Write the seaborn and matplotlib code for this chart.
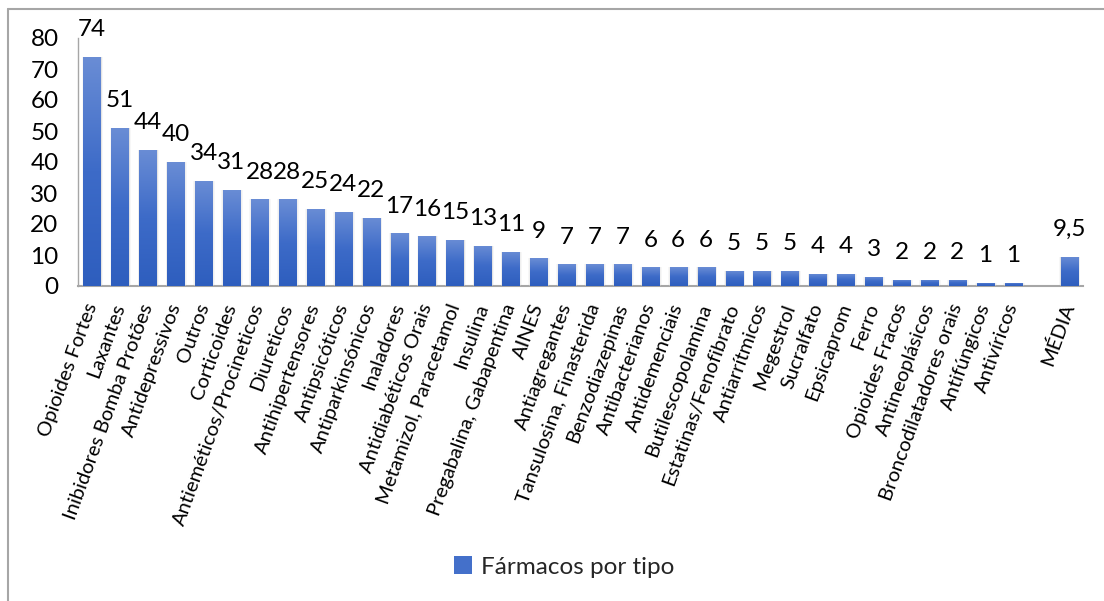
import numpy as np
import pandas as pd
import matplotlib
matplotlib.use("Agg")
import matplotlib.pyplot as plt
from matplotlib.colors import LinearSegmentedColormap
from matplotlib.lines import Line2D
from matplotlib.patches import Rectangle
import seaborn as sns

# Drug classes and number of prescriptions per class
categories = [
    "Opioides Fortes", "Laxantes", "Inibidores Bomba Protões", "Antidepressivos",
    "Outros", "Corticoides", "Antieméticos/Procineticos", "Diureticos",
    "Antihipertensores", "Antipsicóticos", "Antiparkinsónicos", "Inaladores",
    "Antidiabéticos Orais", "Metamizol, Paracetamol", "Insulina",
    "Pregabalina, Gabapentina", "AINES", "Antiagregantes",
    "Tansulosina, Finasterida", "Benzodiazepinas", "Antibacterianos",
    "Antidemenciais", "Butilescopolamina", "Estatinas/Fenofibrato",
    "Antiarrítmicos", "Megestrol", "Sucralfato", "Epsicaprom", "Ferro",
    "Opioides Fracos", "Antineoplásicos", "Broncodilatadores orais",
    "Antifúngicos", "Antivíricos",
]
counts = [74, 51, 44, 40, 34, 31, 28, 28, 25, 24, 22, 17, 16, 15, 13, 11, 9,
          7, 7, 7, 6, 6, 6, 5, 5, 5, 4, 4, 3, 2, 2, 2, 1, 1]
mean_label = "MÉDIA"
mean_value = 9.5
series_name = "Fármacos por tipo"
y_ticks = [0, 10, 20, 30, 40, 50, 60, 70, 80]

df = pd.DataFrame({"tipo": categories + [mean_label],
                   "n": counts + [mean_value]})
spacer = " "
order = categories + [spacer, mean_label]

sns.set_style("white")
plt.rcParams["font.family"] = ["Lato", "DejaVu Sans"]

fig = plt.figure(figsize=(11.04, 6.01), dpi=100)
ax = fig.add_axes([78 / 1104, 1 - 286 / 601, (1083 - 78) / 1104, (286 - 38) / 601])

bar_mid = "#4470CA"
sns.barplot(data=df, x="tipo", y="n", order=order, color=bar_mid,
            width=0.61, saturation=1, ax=ax, legend=False, zorder=3)

# gradient fill and soft grey halo for every bar
grad = LinearSegmentedColormap.from_list("bar", ["#2E5EBE", "#3D6BC8", "#6A8DD5"])
ramp = np.linspace(0, 1, 256).reshape(-1, 1)
for p in list(ax.patches):
    x0, w, h = p.get_x(), p.get_width(), p.get_height()
    if not np.isfinite(h) or h <= 0:
        continue
    for k, a in ((0.05, 0.06), (0.10, 0.045), (0.16, 0.03)):
        ax.add_patch(Rectangle((x0 - k * 0.5 + 0.02, 0), w + k, h,
                               facecolor="black", alpha=a, lw=0, zorder=2))
    im = ax.imshow(ramp, extent=[x0, x0 + w, 0, h], origin="lower",
                   aspect="auto", cmap=grad, zorder=4)
    im.set_clip_path(p)

ax.set_xlim(-0.5, len(order) - 0.5)
ax.set_ylim(0, 80)
ax.set_yticks(y_ticks)
ax.set_xlabel("")
ax.set_ylabel("")

# value labels above bars
def fmt(v):
    return f"{v:g}".replace(".", ",")

for cat, v in zip(df["tipo"], df["n"]):
    ax.annotate(fmt(v), xy=(order.index(cat), v), xytext=(0, 19.5),
                textcoords="offset points", ha="center", va="center",
                fontsize=17.5, color="#000000", zorder=6)

ax.tick_params(axis="y", length=0, pad=14, labelsize=17.5, labelcolor="#000000")
ax.tick_params(axis="x", length=0, pad=13, labelsize=14.5, labelcolor="#000000")
for lbl in ax.get_xticklabels():
    lbl.set_rotation(70)
    lbl.set_ha("right")
    lbl.set_va("center")
    lbl.set_rotation_mode("anchor")

for side in ("top", "right"):
    ax.spines[side].set_visible(False)
ax.spines["left"].set_color("#A6A6A6")
ax.spines["left"].set_linewidth(1.0)
ax.spines["bottom"].set_color("#A6A6A6")
ax.spines["bottom"].set_linewidth(1.5)
ax.grid(False)

handle = Rectangle((0, 0), 1, 1, facecolor=bar_mid, edgecolor="none")
fig.legend([handle], [series_name], loc="center", bbox_to_anchor=(564 / 1104, 1 - 567 / 601),
           frameon=False, fontsize=17.5, handlelength=0.75, handleheight=0.75,
           handletextpad=0.35)

# chart frame
fx = 8 / 1104
fy = 1 - 9 / 601
fig.add_artist(Line2D([fx, 1], [fy, fy], transform=fig.transFigure,
                      color="#A6A6A6", lw=1.5))
fig.add_artist(Line2D([fx, fx], [0, fy], transform=fig.transFigure,
                      color="#A6A6A6", lw=1.5))

fig.savefig("out.png", dpi=100)
